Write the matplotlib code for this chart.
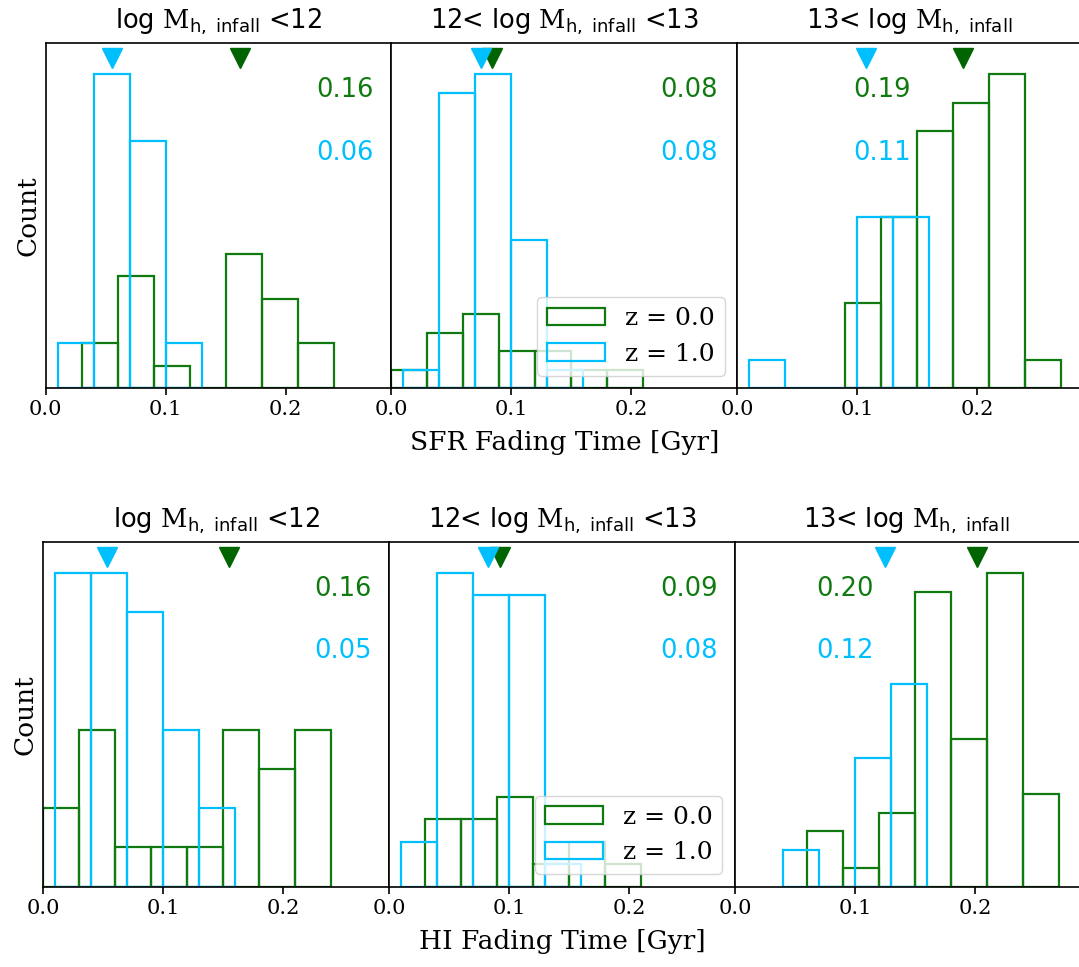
import matplotlib
matplotlib.use("Agg")
import matplotlib.pyplot as plt
import numpy as np

plt.rcParams['font.family'] = 'serif'
plt.rcParams['font.serif'] = ['DejaVu Serif']
plt.rcParams['mathtext.fontset'] = 'dejavuserif'

# histogram data, bins of 0.03 Gyr
bin_width = 0.03

titles = [r'log $\mathrm{M}_{\mathsf{h,\ infall}}$ <12',
          r'12< log $\mathrm{M}_{\mathsf{h,\ infall}}$ <13',
          r'13< log $\mathrm{M}_{\mathsf{h,\ infall}}$ ']

# SFR fading time (top row)
sfr_z0_start = [0.03, 0.00, 0.09]
sfr_z0_counts = [[2, 5, 1, 0, 6, 4, 2],
                 [1, 3, 4, 2, 2, 1, 1],
                 [3, 6, 9, 10, 11, 1]]
sfr_z1_start = [0.01, 0.01, 0.01]
sfr_z1_counts = [[2, 14, 11, 2],
                 [1, 16, 17, 8, 1],
                 [1, 0, 0, 6, 6]]
sfr_z0_median = [0.162, 0.084, 0.188]
sfr_z1_median = [0.0555, 0.0744, 0.107]
sfr_z0_label = ['0.16', '0.08', '0.19']
sfr_z1_label = ['0.06', '0.08', '0.11']

# HI fading time (bottom row)
hi_z0_start = [0.00, 0.03, 0.06]
hi_z0_counts = [[2, 4, 1, 1, 1, 4, 3, 4],
                [3, 3, 4, 1, 2, 1],
                [3, 1, 4, 16, 8, 17, 5]]
hi_z1_start = [0.01, 0.01, 0.04]
hi_z1_counts = [[8, 8, 7, 4, 2],
                [2, 14, 13, 13, 1],
                [2, 0, 7, 11]]
hi_z0_median = [0.155, 0.092, 0.202]
hi_z1_median = [0.0533, 0.082, 0.125]
hi_z0_label = ['0.16', '0.09', '0.20']
hi_z1_label = ['0.05', '0.08', '0.12']

c0 = '#107a10'
c0_mark = 'darkgreen'
c1 = 'deepskyblue'

W, H = 1079.0, 967.0
fig = plt.figure(figsize=(W / 100, H / 100), dpi=100)


def draw_row(left0, top, bottom, width, rows, xlabel, text_x):
    z0_start, z0_counts, z1_start, z1_counts, z0_med, z1_med, z0_lab, z1_lab = rows
    axes = []
    for i in range(3):
        left = left0 + i * width
        ax = fig.add_axes([left / W, 1 - bottom / H, width / W, (bottom - top) / H])
        e0 = z0_start[i] + bin_width * np.arange(len(z0_counts[i]))
        e1 = z1_start[i] + bin_width * np.arange(len(z1_counts[i]))
        ax.bar(e0, z0_counts[i], width=bin_width, align='edge', fill=False,
               edgecolor=c0, linewidth=1.6, label='z = 0.0')
        ax.bar(e1, z1_counts[i], width=bin_width, align='edge', fill=False,
               edgecolor=c1, linewidth=1.6, label='z = 1.0')
        ymax = max(max(z0_counts[i]), max(z1_counts[i]))
        ax.plot(z0_med[i], ymax * 1.05, 'v', color=c0_mark, ms=15)
        ax.plot(z1_med[i], ymax * 1.05, 'v', color=c1, ms=15)
        ax.text(text_x[i], ymax * 0.95, z0_lab[i], color=c0, fontsize=18.5,
                family='DejaVu Sans', va='center', ha='left')
        ax.text(text_x[i], ymax * 0.75, z1_lab[i], color=c1, fontsize=18.5,
                family='DejaVu Sans', va='center', ha='left')
        ax.set_ylim(0, ymax * 1.1)
        ax.set_xlim(0, 0.288)
        ax.set_xticks([0.0, 0.1, 0.2])
        ax.set_xticklabels(['0.0', '0.1', '0.2'])
        ax.set_yticks([])
        ax.tick_params(axis='x', labelsize=15, length=5, width=1.2)
        for s in ax.spines.values():
            s.set_linewidth(1.2)
        ax.set_title(titles[i], fontsize=18.5, family='DejaVu Sans', pad=10)
        axes.append(ax)
    axes[0].set_ylabel('Count', fontsize=19)
    axes[1].set_xlabel(xlabel, fontsize=19, labelpad=8)
    axes[1].legend(loc='lower right', fontsize=18, handlelength=2.3)
    return axes


draw_row(45.7, 42.7, 388.3, 345.7,
         (sfr_z0_start, sfr_z0_counts, sfr_z1_start, sfr_z1_counts,
          sfr_z0_median, sfr_z1_median, sfr_z0_label, sfr_z1_label),
         'SFR Fading Time [Gyr]', [0.2256, 0.224, 0.0965])

draw_row(43.3, 541.7, 886.7, 345.8,
         (hi_z0_start, hi_z0_counts, hi_z1_start, hi_z1_counts,
          hi_z0_median, hi_z1_median, hi_z0_label, hi_z1_label),
         'HI Fading Time [Gyr]', [0.2256, 0.2255, 0.0675])

fig.savefig('out.png', dpi=100)
